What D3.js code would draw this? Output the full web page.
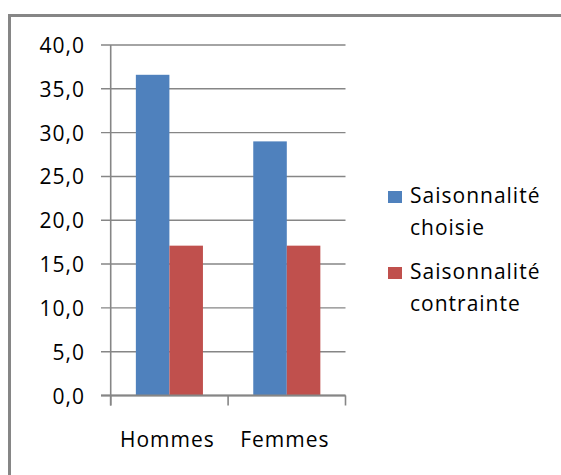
<!DOCTYPE html>
<html>
<head>
<meta charset="utf-8">
<script src="https://cdn.jsdelivr.net/npm/d3@7"></script>
<style>
  html, body { margin: 0; padding: 0; background: #fff; }
  svg { display: block; }
  text { font-family: "Open Sans", sans-serif; fill: #000; letter-spacing: 1px; }
</style>
</head>
<body>
<svg id="chart" width="561" height="475"></svg>
<script>
const categories = ["Hommes", "Femmes"];
const seriesNames = ["Saisonnalité choisie", "Saisonnalité contrainte"];
const legendLines = [["Saisonnalité", "choisie"], ["Saisonnalité", "contrainte"]];
const choisie = [36.6, 29.0];
const contrainte = [17.1, 17.1];
const yTicks = [0, 5, 10, 15, 20, 25, 30, 35, 40];
const colors = ["#4F81BD", "#C0504D"];

const series = [choisie, contrainte];
const svg = d3.select("#chart");
const grid = "#868686";
const fontSize = 21;

// outer frame (cropped at right and bottom)
svg.append("rect")
  .attr("x", 9.5).attr("y", 15.5)
  .attr("width", 700).attr("height", 700)
  .attr("fill", "none").attr("stroke", grid).attr("stroke-width", 3);

const x0 = 110.7, x1 = 345.5;
const y = d3.scaleLinear().domain([0, 40]).range([395.5, 45]);
const x = d3.scaleBand().domain(categories).range([x0, x1]).paddingInner(0).paddingOuter(0);
const inner = d3.scaleBand().domain([0, 1]).range([0, x.bandwidth()]).paddingOuter(0.75).paddingInner(0);

// gridlines
svg.append("g").selectAll("line").data(yTicks).join("line")
  .attr("x1", 101).attr("x2", x1)
  .attr("y1", d => y(d)).attr("y2", d => y(d))
  .attr("stroke", grid).attr("stroke-width", 1.4);

// y tick labels
svg.append("g").selectAll("text").data(yTicks).join("text")
  .attr("x", 85).attr("y", d => y(d) + 8)
  .attr("text-anchor", "end")
  .style("font-size", fontSize + "px")
  .text(d => d3.format(".1f")(d).replace(".", ","));

// bars
const g = svg.append("g");
series.forEach((vals, si) => {
  g.selectAll(".s" + si).data(vals).join("rect")
    .attr("class", "s" + si)
    .attr("x", (d, i) => x(categories[i]) + inner(si))
    .attr("width", inner.bandwidth())
    .attr("y", d => y(d))
    .attr("height", d => y(0) - y(d))
    .attr("fill", colors[si]);
});

// y axis line
svg.append("line").attr("x1", x0).attr("x2", x0).attr("y1", y(40)).attr("y2", y(0) + 10)
  .attr("stroke", grid).attr("stroke-width", 1.6);
// x axis line
svg.append("line").attr("x1", 101).attr("x2", x1).attr("y1", y(0)).attr("y2", y(0))
  .attr("stroke", grid).attr("stroke-width", 1.8);
// x ticks at band boundaries
const bounds = categories.map(c => x(c)).concat([x1]);
svg.append("g").selectAll("line").data(bounds).join("line")
  .attr("x1", d => d).attr("x2", d => d)
  .attr("y1", y(0)).attr("y2", y(0) + 10)
  .attr("stroke", grid).attr("stroke-width", 1.6);

// category labels
svg.append("g").selectAll("text").data(categories).join("text")
  .attr("x", d => x(d) + x.bandwidth() / 2 - 2)
  .attr("y", 446.5)
  .attr("text-anchor", "middle")
  .style("font-size", fontSize + "px")
  .text(d => d);

// legend
const legendY = [191, 267];
const leg = svg.append("g");
seriesNames.forEach((name, i) => {
  leg.append("rect").attr("x", 388).attr("y", legendY[i]).attr("width", 14).attr("height", 12)
    .attr("fill", colors[i]);
  legendLines[i].forEach((line, j) => {
    leg.append("text").attr("x", 410).attr("y", legendY[i] + 12 + j * 31.5)
      .style("font-size", fontSize + "px").text(line);
  });
});
</script>
</body>
</html>
